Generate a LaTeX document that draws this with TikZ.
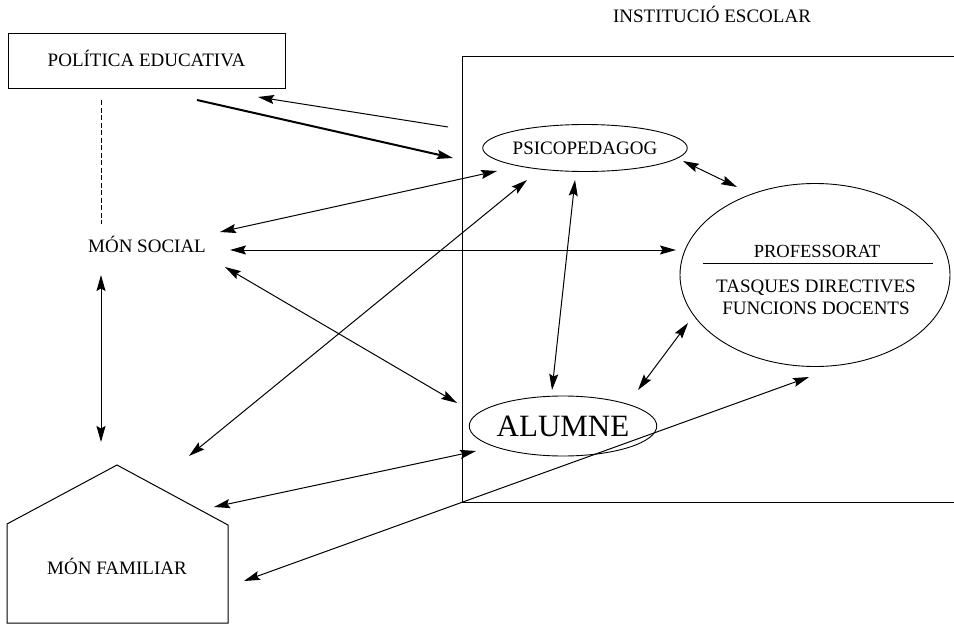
\documentclass[tikz,border=0pt]{standalone}
\usepackage{fontspec}
\setmainfont{Liberation Serif}
\usetikzlibrary{arrows.meta,calc,shapes.geometric}
\begin{document}
\begin{tikzpicture}[x=1pt,y=-1pt,
  txt/.style={font=\fontsize{19}{21}\selectfont, inner sep=0pt, text height=12.6pt, text depth=0pt},
  ptxt/.style={font=\fontsize{18.5}{21}\selectfont, inner sep=0pt, text height=12.2pt, text depth=0pt},
  tip/.tip={Stealth[length=16pt,width=9pt,inset=2.5pt]},
  arr/.style={line width=1pt, tip-tip},
  arrone/.style={line width=1pt, -tip},
  frame/.style={line width=1pt},
  ell/.style={draw, ellipse, line width=0.9pt, inner sep=0pt}]
\useasboundingbox (0,0) rectangle (954,624);

% title
\node[txt] (title) at (712,16) {INSTITUCIÓ ESCOLAR};

% institution frame
\draw[frame] (954,56) -- (462,56) -- (462,502) -- (954,502);

% politica educativa
\node[txt, draw, line width=1pt, minimum width=277pt, minimum height=55pt] (politica) at (146.5,60.5) {POLÍTICA EDUCATIVA};

% mon social
\node[txt] (social) at (147,246) {MÓN SOCIAL};

% mon familiar (house)
\draw[frame] (7,623) -- (7,524) -- (117,465) -- (228,525) -- (228,623) -- cycle;
\node[txt] (familiar) at (117,568) {MÓN FAMILIAR};

% psicopedagog
\node[ell, txt, minimum width=194pt, minimum height=47pt] (psico) at (585,148) {PSICOPEDAGOG};

% alumne
\node[ell, font=\fontsize{31}{33}\selectfont, text height=20.5pt, text depth=0pt, minimum width=180pt, minimum height=60pt] (alumne) at (563,426) {ALUMNE};

% professorat
\node[ell, minimum width=270pt, minimum height=183pt] (prof) at (815,275) {};
\node[ptxt] (profname) at (817,251) {PROFESSORAT};
\draw[line width=0.8pt] ($(prof)+(-112,-12)$) -- ($(prof)+(118,-12)$);
\node[txt] (tasques) at (816,286.5) {TASQUES DIRECTIVES};
\node[txt] (funcions) at (816,308.5) {FUNCIONS DOCENTS};

% connectors
\draw[line width=1pt, dash pattern=on 5pt off 2.5pt] ($(politica)+(-45.5,39.5)$) -- ($(social)+(-46,-22)$);
\draw[arr] ($(social)+(-46,29)$) -- ($(familiar)+(-16,-126)$);

\draw[arrone] ($(psico)+(-137,-21)$) -- ($(politica)+(111.5,36.5)$);
\draw[arrone, line width=2pt] ($(politica)+(50.5,39.5)$) -- ($(psico)+(-132,10)$);

\draw[arr] ($(social)+(73,-14)$) -- ($(psico)+(-88,23)$);
\draw[arr] ($(social)+(83,4)$) -- ($(prof)+(-139,-25)$);
\draw[arr] ($(social)+(78,21)$) -- ($(alumne)+(-106,-23)$);

\draw[arr] ($(familiar)+(72,-112)$) -- ($(psico)+(-58,32)$);
\draw[arr] ($(familiar)+(97,-61)$) -- ($(alumne)+(-87,25)$);
\draw[arr] ($(familiar)+(127,13)$) -- ($(prof)+(-6,102)$);

\draw[arr] ($(psico)+(-10,32)$) -- ($(alumne)+(-11,-36)$);
\draw[arr] ($(psico)+(98,13)$) -- ($(prof)+(-78,-88)$);
\draw[arr] ($(alumne)+(75,-36)$) -- ($(prof)+(-127,48)$);
\end{tikzpicture}
\end{document}
